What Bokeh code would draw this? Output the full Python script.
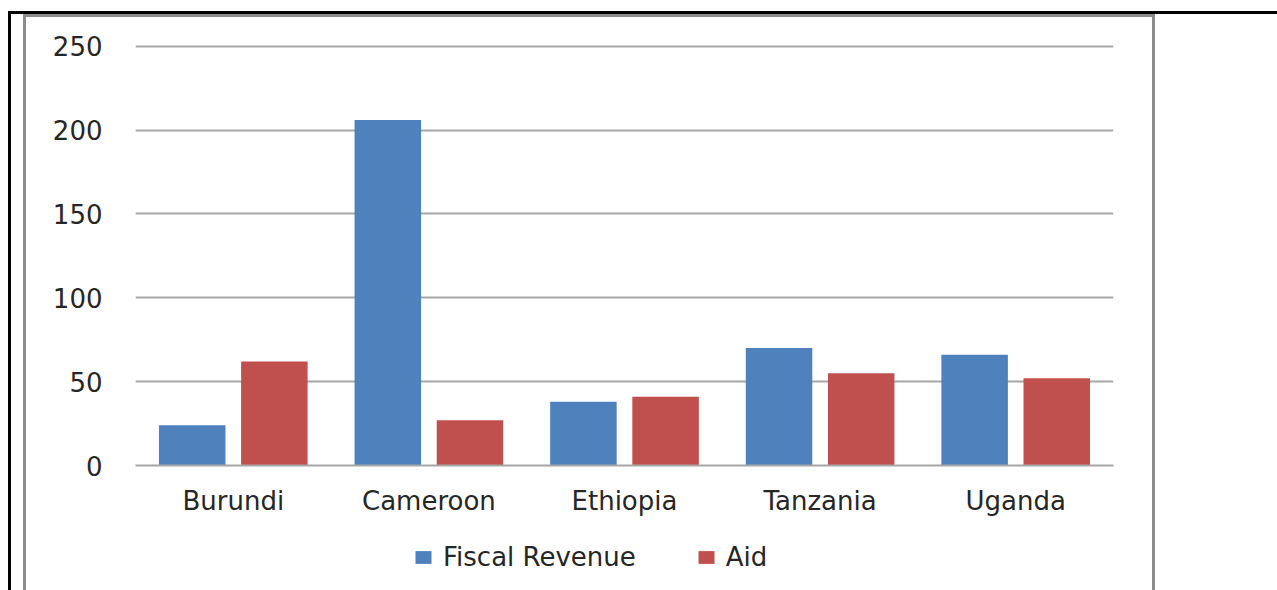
from bokeh.plotting import figure
from bokeh.models import ColumnDataSource, Legend, LegendItem, FactorRange, Range1d, FixedTicker
from bokeh.layouts import column
from bokeh.transform import dodge
from bokeh.embed import file_html
from bokeh.resources import INLINE

countries = ["Burundi", "Cameroon", "Ethiopia", "Tanzania", "Uganda"]
fiscal_revenue = [24, 206, 38, 70, 66]
aid = [62, 27, 41, 55, 52]
y_ticks = [0, 50, 100, 150, 200, 250]
series_names = ["Fiscal Revenue", "Aid"]

BLUE = "#4F81BD"
RED = "#C0504D"
FONT = "DejaVu Sans"
FS = "26px"
TXT = "#262626"

src = ColumnDataSource(dict(country=countries, fiscal=fiscal_revenue, aid=aid))

p = figure(x_range=FactorRange(*countries, range_padding=0), y_range=Range1d(0, 251),
           width=1126, height=503, output_backend="svg", toolbar_location=None,
           min_border_left=109, min_border_right=39, min_border_top=27, min_border_bottom=55)
p.outline_line_color = None
p.background_fill_color = "white"
p.border_fill_color = "white"

r1 = p.vbar(x=dodge("country", -0.21, range=p.x_range), top="fiscal", width=0.34,
            source=src, fill_color=BLUE, line_color=None)
r2 = p.vbar(x=dodge("country", 0.21, range=p.x_range), top="aid", width=0.34,
            source=src, fill_color=RED, line_color=None)

p.xgrid.grid_line_color = None
p.ygrid.grid_line_color = "#a6a6a6"
p.ygrid.grid_line_width = 2
p.yaxis.ticker = FixedTicker(ticks=y_ticks)

p.yaxis.axis_line_color = None
p.yaxis.major_tick_line_color = None
p.yaxis.minor_tick_line_color = None
p.yaxis.major_tick_out = 0
p.yaxis.major_label_standoff = 33
p.yaxis.major_label_text_font = FONT
p.yaxis.major_label_text_font_size = FS
p.yaxis.major_label_text_color = TXT

p.xaxis.axis_line_color = "#a6a6a6"
p.xaxis.axis_line_width = 2
p.xaxis.major_tick_line_color = None
p.xaxis.minor_tick_line_color = None
p.xaxis.major_tick_out = 0
p.xaxis.major_label_standoff = 20
p.xaxis.major_label_text_font = FONT
p.xaxis.major_label_text_font_size = FS
p.xaxis.major_label_text_color = TXT

# legend strip below the chart (keys only; their glyphs lie outside the visible range)
p2 = figure(x_range=Range1d(0, 1), y_range=Range1d(0, 1),
            width=1126, height=70, output_backend="svg", toolbar_location=None,
            min_border_left=0, min_border_right=0, min_border_top=0, min_border_bottom=0)
p2.axis.visible = False
p2.grid.grid_line_color = None
p2.outline_line_color = None
p2.border_fill_color = "white"
l1 = p2.vbar(x=[-10], top=[-10], width=0.1, fill_color=BLUE, line_color=None)
l2 = p2.vbar(x=[-10], top=[-10], width=0.1, fill_color=RED, line_color=None)

legend = Legend(items=[LegendItem(label=series_names[0], renderers=[l1]),
                       LegendItem(label=series_names[1], renderers=[l2])],
                orientation="horizontal", location=(278, 18),
                padding=0, margin=0, spacing=60, label_standoff=10,
                glyph_width=20, glyph_height=16,
                label_text_font=FONT, label_text_font_size=FS, label_text_color=TXT,
                border_line_color=None, background_fill_alpha=0)
p2.add_layout(legend, "center")

layout = column(p, p2, spacing=0, margin=(17, 0, 0, 26),
                styles={"box-shadow": "0 0 0 3px #8c8c8c, 57px 69px 0 72px white, 54px 66px 0 72px black"})

open("out.html", "w").write(file_html(layout, INLINE))
